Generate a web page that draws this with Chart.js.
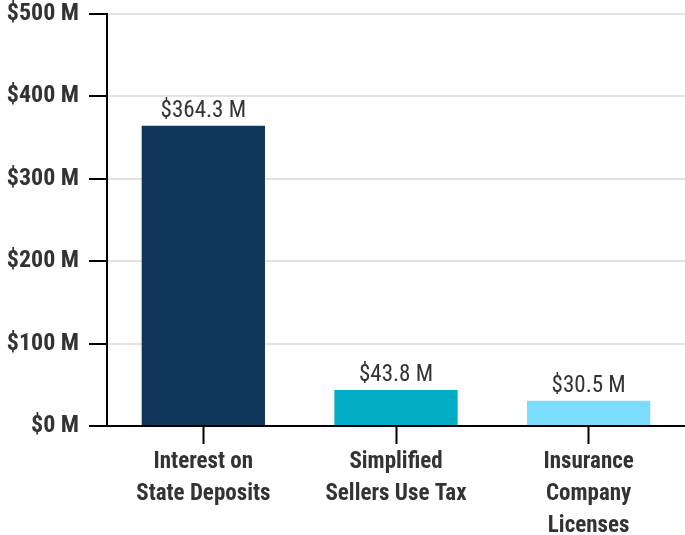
<!DOCTYPE html>
<html>
<head>
<meta charset="utf-8">
<script src="https://cdn.jsdelivr.net/npm/chart.js@4"></script>
<style>
  html, body { margin: 0; padding: 0; background: #fff; }
  #wrap { width: 685px; height: 535px; position: relative; }
</style>
</head>
<body>
<div id="wrap"><canvas id="chart-revenue"></canvas></div>
<script>
// revenue sources bar chart
const CATEGORIES = [
    ['Interest on', 'State Deposits'],
    ['Simplified', 'Sellers Use Tax'],
    ['Insurance', 'Company', 'Licenses'],
];
const VALUES = [364.3, 43.8, 30.5];
const BAR_COLORS = ['#10355a', '#00adc4', '#7bdcfd'];
const Y_TICKS = [0, 100, 200, 300, 400, 500];

const FONT_FAMILY = '"Roboto Condensed", "Liberation Sans Narrow", Roboto, sans-serif';
const TEXT_COLOR = '#333333';

const fmtMoney = v => '$' + v + ' M';

// value labels above each bar
const barLabelPlugin = {
    id: 'barLabels',
    afterDatasetsDraw(chart) {
        const { ctx } = chart;
        const meta = chart.getDatasetMeta(0);
        ctx.save();
        ctx.font = `400 23px ${FONT_FAMILY}`;
        ctx.fillStyle = TEXT_COLOR;
        ctx.textAlign = 'center';
        ctx.textBaseline = 'bottom';
        meta.data.forEach((bar, i) => {
            ctx.fillText(fmtMoney(VALUES[i].toFixed(1)), bar.x, bar.y - 3);
        });
        ctx.restore();
    },
};

const ctx = document.getElementById('chart-revenue').getContext('2d');
new Chart(ctx, {
    type: 'bar',
    data: {
        labels: CATEGORIES,
        datasets: [
            {
                label: 'Revenue',
                data: VALUES,
                backgroundColor: BAR_COLORS,
                borderWidth: 0,
                categoryPercentage: 1,
                barPercentage: 0.64,
            },
        ],
    },
    plugins: [barLabelPlugin],
    options: {
        responsive: true,
        maintainAspectRatio: false,
        animation: false,
        layout: { autoPadding: false, padding: { top: 14, right: 0, bottom: 0, left: 0 } },
        plugins: {
            legend: { display: false },
            tooltip: { enabled: false },
        },
        scales: {
            x: {
                afterFit: scale => {
                    scale.height = 109;
                    scale.paddingLeft = 0;
                    scale.paddingRight = 0;
                },
                grid: {
                    display: true,
                    drawOnChartArea: false,
                    drawTicks: true,
                    offset: false,
                    tickLength: 18,
                    tickWidth: 2,
                    color: '#000',
                },
                border: { display: true, color: '#000', width: 2 },
                ticks: {
                    color: TEXT_COLOR,
                    padding: 2,
                    maxRotation: 0,
                    autoSkip: false,
                    font: { family: FONT_FAMILY, size: 23, weight: 'bold', lineHeight: 1.4 },
                },
            },
            y: {
                min: 0,
                max: 500,
                afterBuildTicks: scale => {
                    scale.ticks = Y_TICKS.map(v => ({ value: v }));
                },
                afterFit: scale => {
                    scale.width = 107;
                    scale.paddingTop = 0;
                    scale.paddingBottom = 0;
                },
                grid: {
                    color: '#e3e3e3',
                    lineWidth: 2,
                    tickColor: '#000',
                    tickLength: 18,
                    tickWidth: 2,
                },
                border: { display: true, color: '#000', width: 2 },
                ticks: {
                    color: TEXT_COLOR,
                    padding: 10,
                    font: { family: FONT_FAMILY, size: 24, weight: 'bold' },
                    callback: v => fmtMoney(v),
                },
            },
        },
    },
});
</script>
</body>
</html>
